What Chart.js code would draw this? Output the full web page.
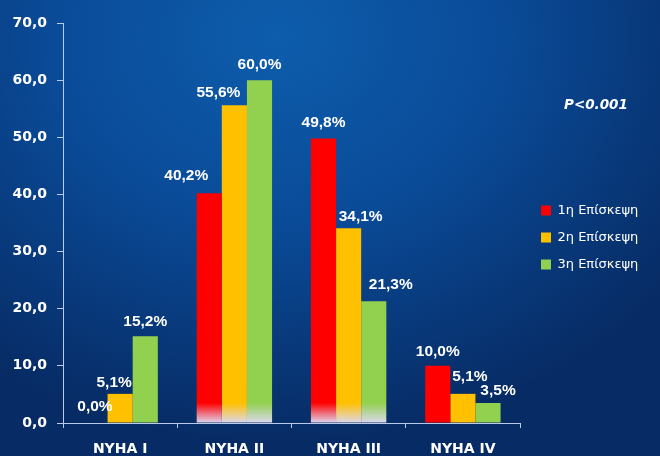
<!DOCTYPE html>
<html>
<head>
<meta charset="utf-8">
<script src="https://cdn.jsdelivr.net/npm/chart.js@4.4.1/dist/chart.umd.min.js"></script>
<style>
  html, body { margin: 0; padding: 0; }
  body {
    width: 660px; height: 456px; overflow: hidden; position: relative;
    background: radial-gradient(ellipse 75% 90% at 42% 8%, #0d5dac 0%, #0a4b98 45%, #083676 80%, #072b64 100%);
  }
  #wrap { position: absolute; left: 0; top: 0; width: 660px; height: 456px; }
  #pval {
    position: absolute; left: 564px; top: 96px;
    color: #fff; font: italic bold 13.5px "DejaVu Sans", sans-serif;
  }
</style>
</head>
<body>
<div id="wrap"><canvas id="myChart"></canvas></div>
<div id="pval">P&lt;0.001</div>
<script>
// categories and series (values in %)
const categories = ["NYHA I", "NYHA II", "NYHA III", "NYHA IV"];
const visit1 = [0.0, 40.2, 49.8, 10.0];
const visit2 = [5.1, 55.6, 34.1, 5.1];
const visit3 = [15.2, 60.0, 21.3, 3.5];
const seriesNames = ["1η Επίσκεψη", "2η Επίσκεψη", "3η Επίσκεψη"];
const yTicks = [0, 10, 20, 30, 40, 50, 60, 70];

// hand placed label nudges (px), like in the original slide
const labelDx = [[0, -23, 0, 0], [-6, -16, 12, 7], [0, 0, 17, 10]];
const labelGap = [[12, 13, 11, 10], [7, 8, 7, 13], [10, 11, 12, 8]];

const colors = ["#ff0000", "#ffc000", "#92d050"];
const axisColor = "#b9cbe6";
const comma = (v) => v.toFixed(1).replace(".", ",");

// the tall bars fade out a bit at the bottom
function barFill(base) {
  return (c) => {
    if (c.type !== "data") return base;
    const area = c.chart.chartArea;
    if (!area || c.raw < 20) return base;
    const g = c.chart.ctx.createLinearGradient(0, area.bottom - 20, 0, area.bottom);
    g.addColorStop(0, base);
    g.addColorStop(1, "#dcd8f0");
    return g;
  };
}

const valueLabels = {
  id: "valueLabels",
  afterDatasetsDraw(chart) {
    const ctx = chart.ctx;
    ctx.save();
    ctx.fillStyle = "#ffffff";
    ctx.font = "bold 15.5px 'Liberation Sans'";
    ctx.textAlign = "center";
    ctx.textBaseline = "alphabetic";
    chart.data.datasets.forEach((ds, i) => {
      chart.getDatasetMeta(i).data.forEach((bar, j) => {
        ctx.fillText(comma(ds.data[j]) + "%", bar.x + labelDx[i][j], bar.y - labelGap[i][j]);
      });
    });
    ctx.restore();
  }
};

// put the legend where it sits on the slide
const legendSpot = {
  id: "legendSpot",
  afterLayout(chart) {
    const lg = chart.legend;
    lg.left = chart.chartArea.right + 7;
    lg.right = chart.width;
    lg.top -= 2; lg.bottom -= 2;
  }
};

const ctx = document.getElementById("myChart").getContext("2d");

const myChart = new Chart(ctx, {
  type: "bar",
  data: {
    labels: categories,
    datasets: [visit1, visit2, visit3].map((d, i) => ({
      label: seriesNames[i],
      data: d,
      backgroundColor: barFill(colors[i]),
      borderWidth: 0,
      categoryPercentage: 0.66,
      barPercentage: 1.0
    }))
  },
  options: {
    responsive: true,
    maintainAspectRatio: false,
    animation: false,
    layout: { padding: { top: 23, right: 40, bottom: 0, left: 0 } },
    plugins: {
      tooltip: { enabled: false },
      legend: {
        position: "right",
        maxWidth: 100,
        labels: {
          color: "#ffffff",
          boxWidth: 10,
          boxHeight: 10,
          padding: 14,
          font: { family: "DejaVu Sans", size: 13 }
        }
      }
    },
    scales: {
      x: {
        afterFit: (s) => { s.height = 33; },
        grid: { drawOnChartArea: false, color: axisColor, tickLength: 5, offset: true },
        border: { color: axisColor, width: 1 },
        ticks: { color: "#ffffff", padding: 13, font: { family: "DejaVu Sans", size: 14, weight: "bold" } }
      },
      y: {
        min: 0,
        max: 70,
        afterFit: (s) => { s.width = 63; },
        afterBuildTicks: (s) => { s.ticks = yTicks.map((v) => ({ value: v })); },
        grid: { drawOnChartArea: false, color: axisColor, tickLength: 6 },
        border: { color: axisColor, width: 1 },
        ticks: {
          color: "#ffffff",
          padding: 10,
          font: { family: "DejaVu Sans", size: 14, weight: "bold" },
          callback: (v) => comma(v)
        }
      }
    }
  },
  plugins: [valueLabels, legendSpot]
});
</script>
</body>
</html>
